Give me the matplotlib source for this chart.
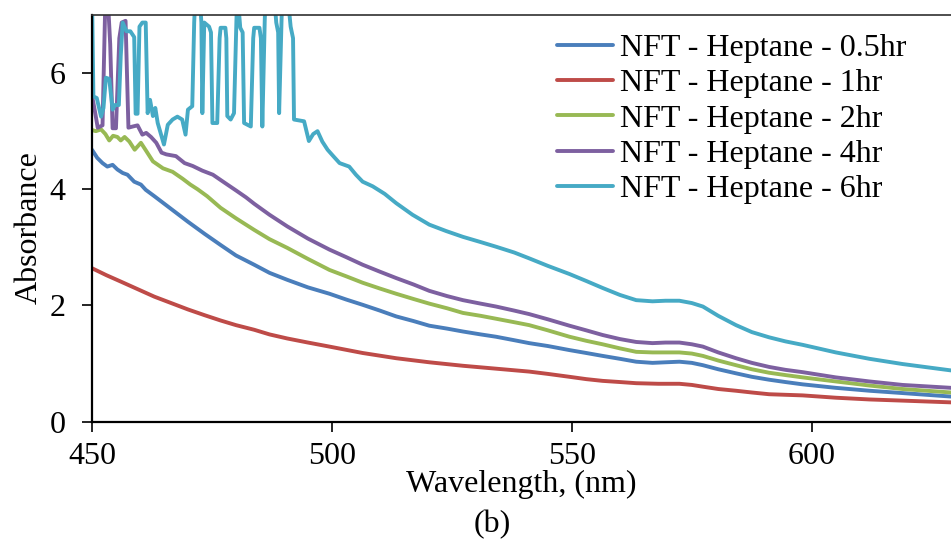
import numpy as np
import matplotlib
matplotlib.use("Agg")
import matplotlib.pyplot as plt

plt.rcParams['font.family'] = ['Liberation Serif', 'DejaVu Serif']
plt.rcParams['font.size'] = 23

# --------------------------------------------------
# data (values above 7 are clipped by the axis)
# --------------------------------------------------
labels = ["NFT - Heptane - 0.5hr", "NFT - Heptane - 1hr", "NFT - Heptane - 2hr",
          "NFT - Heptane - 4hr", "NFT - Heptane - 6hr"]
colors = ["#4A7EBB", "#BE4B48", "#98B954", "#7D60A0", "#46AAC5"]

wl_05 = [450, 451.1, 452.2, 453.2, 454.3, 455.3, 456.4, 457.4, 458.8, 460.2, 461.2,
         463, 466.5, 470, 473.5, 476.8, 480, 483.8, 487, 490.7, 495, 499.5, 503,
         506.4, 510, 513.4, 517, 520.3, 524, 527.3, 531, 534.2, 538, 541.1, 545,
         549.5, 553, 556.4, 560, 563.4, 566.8, 569.5, 572.4, 575, 577.3, 580.5,
         584.2, 587.5, 591.1, 594.5, 598.1, 605, 612, 618.9, 629]
abs_05 = [4.68, 4.54, 4.45, 4.39, 4.42, 4.34, 4.28, 4.25, 4.13, 4.08, 3.99,
          3.88, 3.66, 3.44, 3.23, 3.04, 2.86, 2.70, 2.56, 2.44, 2.31, 2.20, 2.10,
          2.01, 1.91, 1.81, 1.73, 1.65, 1.60, 1.55, 1.50, 1.46, 1.40, 1.35, 1.30,
          1.23, 1.18, 1.13, 1.08, 1.03, 1.01, 1.02, 1.03, 1.01, 0.97, 0.90,
          0.83, 0.77, 0.72, 0.68, 0.64, 0.58, 0.53, 0.49, 0.43]

wl_1 = [450, 453, 456, 459.5, 463, 466.5, 470, 473.5, 476.8, 480, 483.8, 487,
        490.7, 495, 499.5, 506.4, 513.4, 520.3, 527.3, 534.2, 541.1, 545, 549.5,
        553, 556.4, 560, 563.4, 568, 572.4, 575, 577.3, 580.5, 584.2, 587.5,
        591.1, 598.1, 605, 612, 618.9, 629]
abs_1 = [2.64, 2.52, 2.41, 2.28, 2.15, 2.04, 1.93, 1.83, 1.74, 1.66, 1.58, 1.50,
         1.43, 1.36, 1.29, 1.18, 1.09, 1.02, 0.96, 0.91, 0.86, 0.82, 0.77,
         0.73, 0.70, 0.68, 0.66, 0.65, 0.65, 0.63, 0.60, 0.56, 0.53, 0.50,
         0.47, 0.45, 0.41, 0.38, 0.36, 0.33]

wl_2 = [450, 450.8, 451.9, 452.8, 453.6, 454.4, 455.3, 456, 456.8, 457.8, 458.9,
        460.2, 461.3, 462.7, 464.8, 466.8, 468.9, 470.5, 472, 474, 476.8, 480,
        483.8, 487, 490.7, 495, 499.5, 503, 506.4, 510, 513.4, 517, 520.3, 524,
        527.3, 531, 534.2, 538, 541.1, 545, 549.5, 553, 556.4, 560, 563.4, 566.8,
        569.5, 572.4, 575, 577.3, 580.5, 584.2, 587.5, 591.1, 594.5, 598.1, 605,
        612, 618.9, 629]
abs_2 = [5.02, 5.00, 5.03, 4.95, 4.84, 4.92, 4.90, 4.84, 4.90, 4.82, 4.68,
         4.80, 4.66, 4.48, 4.36, 4.30, 4.18, 4.08, 4.00, 3.88, 3.68, 3.50,
         3.30, 3.14, 2.99, 2.80, 2.61, 2.50, 2.39, 2.29, 2.20, 2.11, 2.03, 1.95,
         1.87, 1.82, 1.77, 1.71, 1.66, 1.57, 1.46, 1.39, 1.33, 1.26, 1.20, 1.19,
         1.19, 1.19, 1.17, 1.13, 1.05, 0.97, 0.90, 0.84, 0.80, 0.76, 0.69,
         0.62, 0.56, 0.50]

wl_4 = [450, 450.6, 451.2, 452.2, 452.8, 453.3, 453.8, 454.3, 455.0, 455.7, 456.2,
        457.0, 457.6, 458.5, 459.5, 460.5, 461.3, 462.3, 463.4, 464.5, 465.5,
        467.5, 469.3, 471, 473, 475.2, 477.5, 480, 482.1, 483.8, 487, 490.7, 495,
        499.5, 503, 506.4, 510, 513.4, 517, 520.3, 524, 527.3, 531, 534.2, 538,
        541.1, 545, 549.5, 553, 556.4, 560, 563.4, 566.8, 569.5, 572.4, 575,
        577.3, 580.5, 584.2, 587.5, 591.1, 594.5, 598.1, 605, 612, 618.9, 629]
abs_4 = [5.62, 5.35, 5.06, 5.10, 7.30, 7.30, 6.50, 5.05, 5.05, 6.60, 6.87,
         6.90, 5.06, 5.08, 5.10, 4.94, 4.97, 4.90, 4.80, 4.63, 4.60,
         4.57, 4.45, 4.40, 4.32, 4.25, 4.12, 3.98, 3.86, 3.75, 3.56, 3.36, 3.15,
         2.96, 2.83, 2.70, 2.58, 2.47, 2.36, 2.25, 2.16, 2.09, 2.03, 1.98, 1.91,
         1.85, 1.76, 1.65, 1.57, 1.49, 1.42, 1.37, 1.35, 1.36, 1.36, 1.33,
         1.29, 1.19, 1.09, 1.01, 0.94, 0.89, 0.85, 0.76, 0.69, 0.63, 0.58]

wl_6 = [450, 450.3, 451.0, 451.9, 452.4, 452.9, 453.6, 454.3, 454.8, 455.6, 456.0,
        456.4, 457.2, 458.0, 458.8, 459.1, 459.5, 459.9, 460.5, 461.2, 461.6,
        462.1, 462.7, 463.2, 463.7, 465.0, 465.8, 466.8, 467.8, 468.8, 469.5,
        470.0, 470.9, 471.3, 471.6, 472.4, 472.8, 473.0, 473.4, 474.4, 474.8,
        475.1, 476.1, 476.6, 476.8, 477.8, 478.0, 478.2, 478.9, 479.6, 480.1,
        480.3, 480.9, 481.4, 481.7, 483.1, 483.6, 483.8, 484.9, 485.2, 485.5,
        486.0, 486.2, 487.9, 488.4, 488.8, 489.0, 489.5, 489.7, 490.7, 491.4,
        491.9, 492.1, 494.2, 495.2, 496.1, 497.0, 498.0, 499.1, 500.5, 501.6,
        503.6, 505, 506.4, 508.5, 511, 513.4, 516.8, 520.3, 523.8, 527.3, 531,
        534.2, 538, 541.1, 545, 549.5, 553, 556.4, 560, 563.4, 566.8, 569.5,
        572.4, 575, 577.3, 580.5, 584.2, 587.5, 591.1, 594.5, 598.1, 605, 612,
        618.9, 629]
abs_6 = [7.40, 5.60, 5.57, 5.25, 5.40, 5.92, 5.90, 5.37, 5.45, 5.45, 6.30,
         6.87, 6.72, 6.72, 6.62, 5.30, 5.30, 6.80, 6.87, 6.87, 5.31,
         5.54, 5.26, 5.40, 5.14, 4.77, 5.11, 5.20, 5.25, 5.20, 4.94,
         5.37, 5.43, 6.87, 7.40, 7.40, 6.87, 5.31, 6.87, 6.80, 6.70,
         5.14, 5.14, 6.60, 6.78, 6.78, 6.60, 5.26, 5.20, 5.31, 6.90,
         7.40, 6.78, 6.70, 5.14, 5.08, 6.60, 6.78, 6.78, 6.60, 5.08,
         6.90, 7.40, 7.40, 6.87, 6.70, 5.31, 6.90, 7.40, 7.40, 6.80,
         6.60, 5.20, 5.17, 4.83, 4.95, 5.00, 4.82, 4.68, 4.55, 4.45,
         4.39, 4.25, 4.13, 4.05, 3.92, 3.76, 3.56, 3.39, 3.28, 3.18, 3.09,
         3.01, 2.91, 2.81, 2.68, 2.54, 2.42, 2.30, 2.18, 2.09, 2.07, 2.08,
         2.08, 2.04, 1.98, 1.82, 1.66, 1.54, 1.45, 1.38, 1.32, 1.19, 1.08,
         0.99, 0.88]

wavelengths = [wl_05, wl_1, wl_2, wl_4, wl_6]
absorbances = [abs_05, abs_1, abs_2, abs_4, abs_6]

# --------------------------------------------------
# plot
# --------------------------------------------------
fig = plt.figure(figsize=(9.51, 5.40), dpi=100)
ax = fig.add_axes([0.0967, 0.2194, 0.9033, 0.7528])

for wl, a, lab, col in zip(wavelengths, absorbances, labels, colors):
    ax.plot(wl, a, color=col, linewidth=2.8, label=lab,
            solid_joinstyle='round', solid_capstyle='round')

ax.set_xlim(450, 629)
ax.set_ylim(0, 7)
ax.set_xticks([450, 500, 550, 600])
ax.set_yticks([0, 2, 4, 6])

ax.spines['right'].set_visible(False)
ax.spines['top'].set_linewidth(1.2)
ax.spines['top'].set_color('#303030')
ax.spines['left'].set_linewidth(1.6)
ax.spines['bottom'].set_linewidth(1.6)
ax.tick_params(axis='both', direction='out', length=7, width=1.2, labelsize=23)
ax.tick_params(axis='y', pad=12)
ax.tick_params(axis='x', pad=8)

ax.set_xlabel("Wavelength, (nm)", fontsize=23)
ax.set_ylabel("Absorbance", fontsize=23)
ax.xaxis.set_label_coords(0.5, -0.12)
ax.yaxis.set_label_coords(-0.056, 0.478)

ax.legend(loc='upper left', bbox_to_anchor=(0.586, 0.937), bbox_transform=fig.transFigure,
          frameon=False, fontsize=23, borderpad=0, borderaxespad=0,
          labelspacing=0.18, handlelength=1.75, handletextpad=0.2)

fig.text(492 / 951, 1 - 525 / 540, "(b)", ha='center', va='center', fontsize=23)

fig.savefig("out.png", dpi=100)
